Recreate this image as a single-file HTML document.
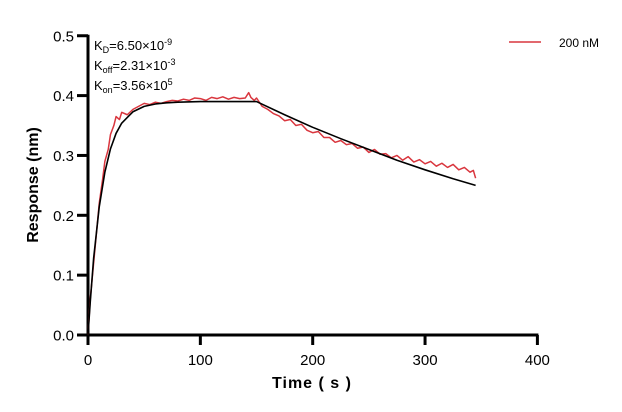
<!DOCTYPE html>
<html><head><meta charset="utf-8"><style>
body{margin:0;background:#fff;}
svg{display:block;font-family:"Liberation Sans",Arial,sans-serif;}
</style></head><body>
<svg id="chart" width="622" height="412" viewBox="0 0 622 412"></svg>
<script>
const xTicks=[0,100,200,300,400];
const yTicks=[0.0,0.1,0.2,0.3,0.4,0.5];
const yTickLabels=["0.0","0.1","0.2","0.3","0.4","0.5"];
const fitTimes=[0,2,5,10,15,20,25,30,40,50,60,70,80,100,120,150,175,200,225,250,275,300,325,345];
const fitValues=[0,0.055,0.128,0.214,0.272,0.311,0.337,0.354,0.373,0.382,0.386,0.388,0.389,0.39,0.39,0.39,0.368,0.347,0.328,0.31,0.292,0.276,0.261,0.25];
const dataTimes=[0,2,5,8,10,13,15,18,20,23,25,28,30,35,40,45,50,55,60,65,70,75,80,85,90,95,100,105,110,115,120,125,130,135,140,143,145,148,150,155,160,165,170,175,180,185,190,195,200,205,210,215,220,225,230,235,240,245,250,255,260,265,270,275,280,285,290,295,300,305,310,315,320,325,330,335,340,343,345];
const dataValues=[0,0.06,0.12,0.18,0.22,0.26,0.29,0.31,0.335,0.35,0.365,0.36,0.372,0.368,0.377,0.382,0.387,0.385,0.389,0.387,0.39,0.392,0.391,0.394,0.392,0.396,0.395,0.392,0.397,0.395,0.398,0.394,0.397,0.395,0.396,0.405,0.397,0.392,0.396,0.382,0.377,0.37,0.366,0.358,0.36,0.35,0.352,0.342,0.338,0.34,0.33,0.33,0.322,0.325,0.318,0.32,0.312,0.314,0.305,0.31,0.302,0.303,0.296,0.3,0.292,0.298,0.289,0.293,0.286,0.29,0.282,0.287,0.28,0.285,0.276,0.28,0.272,0.275,0.262];
const ns="http://www.w3.org/2000/svg";
const svg=document.getElementById('chart');
const x0=88,xPer=1.1235,y0=335,yPer=598.5;
function sx(t){return x0+t*xPer;}
function sy(v){return y0-v*yPer;}
function mk(tag,attrs,parent){const e=document.createElementNS(ns,tag);for(const k in attrs)e.setAttribute(k,attrs[k]);(parent||svg).appendChild(e);return e;}
// axes
const yAxis=mk('line',{x1:sx(0),y1:sy(0)+1.5,x2:sx(0),y2:sy(0.5)-1,stroke:'#000','stroke-width':3});


const xAxis=mk('line',{x1:sx(0)-1.5,y1:sy(0),x2:sx(400)+1,y2:sy(0),stroke:'#000','stroke-width':3});


xTicks.forEach(t=>{
  const l=mk('line',{x1:sx(t),y1:sy(0),x2:sx(t),y2:sy(0)+10,stroke:'#000','stroke-width':3});
  
  
  const tx=mk('text',{x:sx(t),y:sy(0)+30,'text-anchor':'middle','font-size':15});
  tx.textContent=t;
  
  
});
yTicks.forEach((v,i)=>{
  const l=mk('line',{x1:sx(0)-11,y1:sy(v),x2:sx(0),y2:sy(v),stroke:'#000','stroke-width':3});
  
  
  const tx=mk('text',{x:sx(0)-14,y:sy(v)+5.5,'text-anchor':'end','font-size':15});
  tx.textContent=yTickLabels[i];
  
  
});
const xt=mk('text',{x:312,y:388,'text-anchor':'middle','font-size':16,'font-weight':'bold','letter-spacing':'1'});
xt.textContent='Time ( s )';


const yt=mk('text',{x:38,y:185,'text-anchor':'middle','font-size':16,'font-weight':'bold',transform:'rotate(-90 38 185)'});
yt.textContent='Response (nm)';


// series
const dp=mk('polyline',{points:dataTimes.map((t,i)=>sx(t)+','+sy(dataValues[i])).join(' '),fill:'none',stroke:'#d9363e','stroke-width':1.5,'stroke-linejoin':'round'});


const fp=mk('polyline',{points:fitTimes.map((t,i)=>sx(t)+','+sy(fitValues[i])).join(' '),fill:'none',stroke:'#000','stroke-width':1.6,'stroke-linejoin':'round'});


// legend
const lg=mk('g',{});


mk('line',{x1:509,y1:42,x2:541,y2:42,stroke:'#d9363e','stroke-width':1.5},lg);
const lt=mk('text',{x:559,y:47,'font-size':12},lg);
lt.textContent='200 nM';
// annotation
const ann=mk('g',{'font-size':13});


const rows=[['D','6.50×10','-9',50],['off','2.31×10','-3',70],['on','3.56×10','5',90]];
rows.forEach(r=>{
  const t=mk('text',{x:94,y:r[3]},ann);
  t.innerHTML='K<tspan font-size="9" dy="3">'+r[0]+'</tspan><tspan dy="-3">='+r[1]+'</tspan><tspan font-size="9" dy="-5">'+r[2]+'</tspan>';
});
</script>
</body></html>
